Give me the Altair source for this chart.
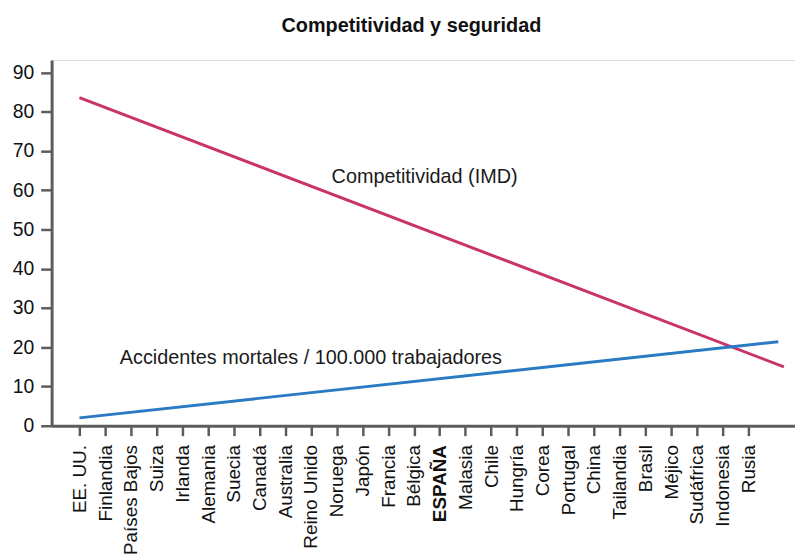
import json
import altair as alt
import pandas as pd

# --- data ---
paises = ["EE. UU.", "Finlandia", "Países Bajos", "Suiza", "Irlanda", "Alemania",
          "Suecia", "Canadá", "Australia", "Reino Unido", "Noruega", "Japón",
          "Francia", "Bélgica", "ESPAÑA", "Malasia", "Chile", "Hungría", "Corea",
          "Portugal", "China", "Tailandia", "Brasil", "Méjico", "Sudáfrica",
          "Indonesia", "Rusia"]

series = ["Competitividad (IMD)", "Competitividad (IMD)",
          "Accidentes mortales / 100.000 trabajadores",
          "Accidentes mortales / 100.000 trabajadores"]
posicion = [0, 27.38, 0, 27.16]
valor = [83.6, 15.0, 2.0, 21.4]

etiquetas = ["Competitividad (IMD)", "Accidentes mortales / 100.000 trabajadores"]
etiqueta_x = [9.8, 1.57]
etiqueta_y = [61.9, 15.7]

y_ticks = [0, 10, 20, 30, 40, 50, 60, 70, 80, 90]

FONT = "Liberation Sans"
RED = "#c9336a"
BLUE = "#2a7bc4"
AXIS = "#5c5c5c"

df = pd.DataFrame({"serie": series, "pos": posicion, "valor": valor})
df_lab = pd.DataFrame({"texto": etiquetas, "x": etiqueta_x, "y": etiqueta_y})

label_expr = json.dumps(paises, ensure_ascii=False) + "[datum.value]"

x_scale = alt.Scale(domain=[-1.08, 27.81], nice=False, zero=False)
y_scale = alt.Scale(domain=[0, 93.2], nice=False, zero=True)

x_axis = alt.Axis(
    values=list(range(len(paises))), labelExpr=label_expr, labelAngle=-90,
    labelFontSize=19, labelFont=FONT, labelColor="#111111", labelPadding=9,
    labelOverlap=False, labelBound=False, labelFlush=False,
    labelFontWeight={"condition": {"test": "datum.value == 14", "value": "bold"}, "value": "normal"},
    tickSize=10, tickWidth=2.5, tickColor=AXIS,
    domainColor=AXIS, domainWidth=3, grid=False, title=None,
)
y_axis = alt.Axis(
    values=y_ticks, labelFontSize=19.5, labelFont=FONT, labelColor="#111111",
    labelPadding=7, tickSize=11, tickWidth=2.5, tickColor=AXIS,
    domainColor=AXIS, domainWidth=3, grid=False, title=None,
)

lines = alt.Chart(df).mark_line(strokeWidth=3).encode(
    x=alt.X("pos:Q", scale=x_scale, axis=x_axis),
    y=alt.Y("valor:Q", scale=y_scale, axis=y_axis),
    color=alt.Color("serie:N", scale=alt.Scale(domain=etiquetas, range=[RED, BLUE]), legend=None),
)

texts = alt.Chart(df_lab).mark_text(
    align="left", baseline="alphabetic", fontSize=20, font=FONT, color="#1a1a1a"
).encode(
    x=alt.X("x:Q", scale=x_scale, axis=x_axis),
    y=alt.Y("y:Q", scale=y_scale, axis=y_axis),
    text="texto:N",
)

chart = alt.layer(lines, texts).properties(
    width=750, height=369,
    padding={"left": 44, "top": 50, "right": 0, "bottom": 133},
    autosize="none",
    title=alt.TitleParams(
        "Competitividad y seguridad", font=FONT, fontSize=20, fontWeight="bold",
        color="#111111", anchor="middle", dx=-12, offset=8, baseline="alphabetic",
    ),
).configure_view(fill="#dadada", stroke=None).configure(background="white")

chart.save("out.html", embed_options={"renderer": "svg", "actions": False})
